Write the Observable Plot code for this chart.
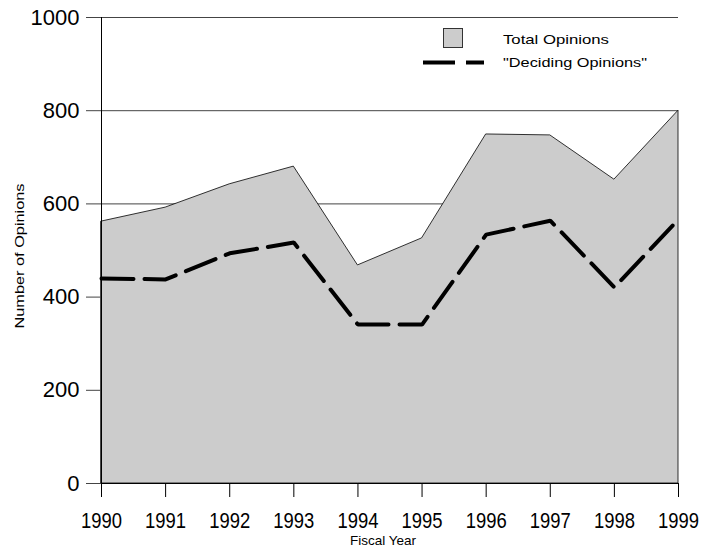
<!DOCTYPE html>
<html>
<head>
<meta charset="utf-8">
<script src="https://cdn.jsdelivr.net/npm/d3@7"></script>
<script src="https://cdn.jsdelivr.net/npm/@observablehq/plot@0.6"></script>
<style>
  body { margin: 0; background: #fff; font-family: "Liberation Sans", Arial, sans-serif; }
  #wrap { position: relative; width: 718px; height: 546px; }
  #legend { position: absolute; left: 0; top: 0; pointer-events: none; }
</style>
</head>
<body>
<div id="wrap">
  <div id="chart"></div>
  <svg id="legend" width="718" height="90" font-family="Liberation Sans, Arial, sans-serif" font-size="13">
    <rect x="443.5" y="28.5" width="19" height="19" fill="#cccccc" stroke="#333" stroke-width="1"/>
    <text x="503" y="44" textLength="106" lengthAdjust="spacingAndGlyphs">Total Opinions</text>
    <line x1="423" x2="484" y1="62.5" y2="62.5" stroke="#000" stroke-width="4" stroke-dasharray="32,11"/>
    <text x="503" y="67" textLength="144" lengthAdjust="spacingAndGlyphs">"Deciding Opinions"</text>
  </svg>
</div>
<script>
const years = [1990, 1991, 1992, 1993, 1994, 1995, 1996, 1997, 1998, 1999];
const totalOpinions = [562, 592, 642, 680, 468, 526, 749, 747, 652, 800];
const decidingOpinions = [440, 438, 494, 517, 341, 341, 534, 564, 421, 567];
const yTicks = [0, 200, 400, 600, 800, 1000];

const total = years.map((y, i) => ({year: y, value: totalOpinions[i]}));
const deciding = years.map((y, i) => ({year: y, value: decidingOpinions[i]}));

const chart = Plot.plot({
  width: 718,
  height: 546,
  marginLeft: 101,
  marginRight: 40,
  marginTop: 17,
  marginBottom: 63,
  style: {fontFamily: "Liberation Sans, Arial, sans-serif", background: "#fff", color: "#000"},
  x: {domain: [1990, 1999], ticks: years, tickFormat: "d"},
  y: {domain: [0, 1000], ticks: yTicks, tickFormat: "d"},
  marks: [
    Plot.gridY(yTicks, {stroke: "#444", strokeOpacity: 1, strokeWidth: 1}),
    Plot.areaY(total, {x: "year", y: "value", fill: "#cccccc", stroke: "#000", strokeWidth: 0.8}),
    Plot.lineY(deciding, {x: "year", y: "value", stroke: "#000", strokeWidth: 4, strokeDasharray: "32,11", strokeLinejoin: "miter"}),
    Plot.ruleY([0], {stroke: "#000", strokeWidth: 1}),
    Plot.ruleX([1990], {stroke: "#000", strokeWidth: 1}),
    Plot.axisY(yTicks, {tickSize: 15, tickPadding: 7, fontSize: 22, stroke: "#444", tickFormat: "d", label: null}),
    Plot.axisX(years, {tickSize: 14, tickPadding: 15, fontSize: 22, stroke: "#000", tickFormat: "d", label: null}),
    Plot.text(["Fiscal Year"], {frameAnchor: "bottom", dx: -7, dy: 61, fontSize: 13.5}),
    Plot.text(["Number of Opinions"], {frameAnchor: "left", textAnchor: "start", dx: -82, dy: 78, rotate: -90, fontSize: 13})
  ]
});
document.getElementById("chart").appendChild(chart);

// condensed x tick labels and stretched y title, as in the reference
d3.select(chart).selectAll('g[aria-label="x-axis tick label"] text')
  .attr("textLength", 41).attr("lengthAdjust", "spacingAndGlyphs");
d3.select(chart).selectAll("text").filter(function () { return this.textContent === "Number of Opinions"; })
  .attr("textLength", 145).attr("lengthAdjust", "spacingAndGlyphs");
</script>
</body>
</html>
